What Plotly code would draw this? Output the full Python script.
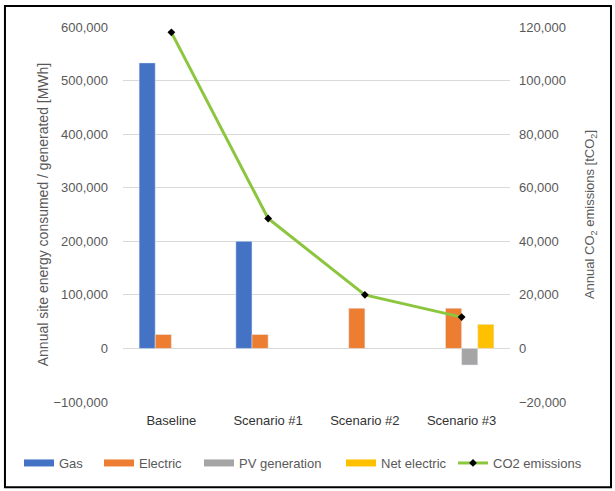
import plotly.graph_objects as go

categories = ["Baseline", "Scenario #1", "Scenario #2", "Scenario #3"]
gas = [533000, 200000, None, None]
electric = [26000, 26000, 75000, 75000]
pv_generation = [None, None, None, -31000]
net_electric = [None, None, None, 45000]
co2_emissions = [118000, 48500, 20000, 11700]

series_names = ["Gas", "Electric", "PV generation", "Net electric"]
series_values = [gas, electric, pv_generation, net_electric]
series_colors = ["#4472C4", "#ED7D31", "#A5A5A5", "#FFC000"]
legend_x_px = [19, 99, 199, 341, 453]

FONT = "Liberation Sans, Arial, sans-serif"
GREY = "#595959"
W, H = 615, 491

fig = go.Figure()
for i, (name, vals, col) in enumerate(zip(series_names, series_values, series_colors)):
    fig.add_trace(go.Bar(name=name, x=categories, y=vals, marker_color=col,
                         showlegend=False, legendgroup=name))
    # legend proxy: wide flat swatch like the original
    fig.add_trace(go.Scatter(name=name, x=[None], y=[None], mode="lines",
                             line=dict(color=col, width=7), legendgroup=name,
                             legend="legend" if i == 0 else f"legend{i+1}"))
fig.add_trace(go.Scatter(name="CO2 emissions", x=categories, y=co2_emissions, yaxis="y2",
                         mode="lines+markers",
                         line=dict(color="#8CC63F", width=3),
                         marker=dict(symbol="diamond", size=6, color="black"),
                         legend="legend5"))

legends = {}
for i, px in enumerate(legend_x_px):
    key = "legend" if i == 0 else f"legend{i+1}"
    legends[key] = dict(orientation="h", xref="container", yref="container",
                        x=px / W, xanchor="left", y=1 - 463 / H, yanchor="middle",
                        font=dict(size=13, color=GREY), itemwidth=30,
                        bgcolor="rgba(0,0,0,0)")

fig.update_layout(
    width=W, height=H,
    margin=dict(l=123, r=105, t=27, b=89, autoexpand=False),
    paper_bgcolor="white", plot_bgcolor="white",
    barmode="group", bargap=0.333, bargroupgap=0,
    font=dict(family=FONT, size=13, color=GREY),
    xaxis=dict(type="category", showgrid=False, showline=False, ticks="",
               automargin=False, ticklabelstandoff=9,
               tickfont=dict(color="#333333", size=13)),
    yaxis=dict(range=[-100000, 600000], dtick=100000, tickformat=",",
               showgrid=True, gridcolor="#D9D9D9", gridwidth=1, zeroline=False,
               showline=False, ticks="", automargin=False, ticklabelstandoff=14,
               title=dict(text="Annual site energy consumed / generated [MWh]",
                          font=dict(size=14, color=GREY), standoff=1)),
    yaxis2=dict(range=[-20000, 120000], dtick=20000, tickformat=",",
                overlaying="y", side="right", showgrid=False, zeroline=False,
                showline=False, ticks="", automargin=False, ticklabelstandoff=8,
                title=dict(text="Annual CO<sub>2</sub> emissions [tCO<sub>2</sub>]",
                           font=dict(size=13, color=GREY), standoff=19)),
    shapes=[dict(type="rect", xref="paper", yref="paper",
                 x0=-0.305, x1=1.261, y0=-0.227, y1=1.056,
                 line=dict(color="black", width=2), fillcolor="rgba(0,0,0,0)", layer="below")],
    showlegend=True,
    **legends,
)

fig.write_html("out.html", config={"displayModeBar": False},
               post_script="document.body.style.margin='0';document.body.style.overflow='hidden';")
